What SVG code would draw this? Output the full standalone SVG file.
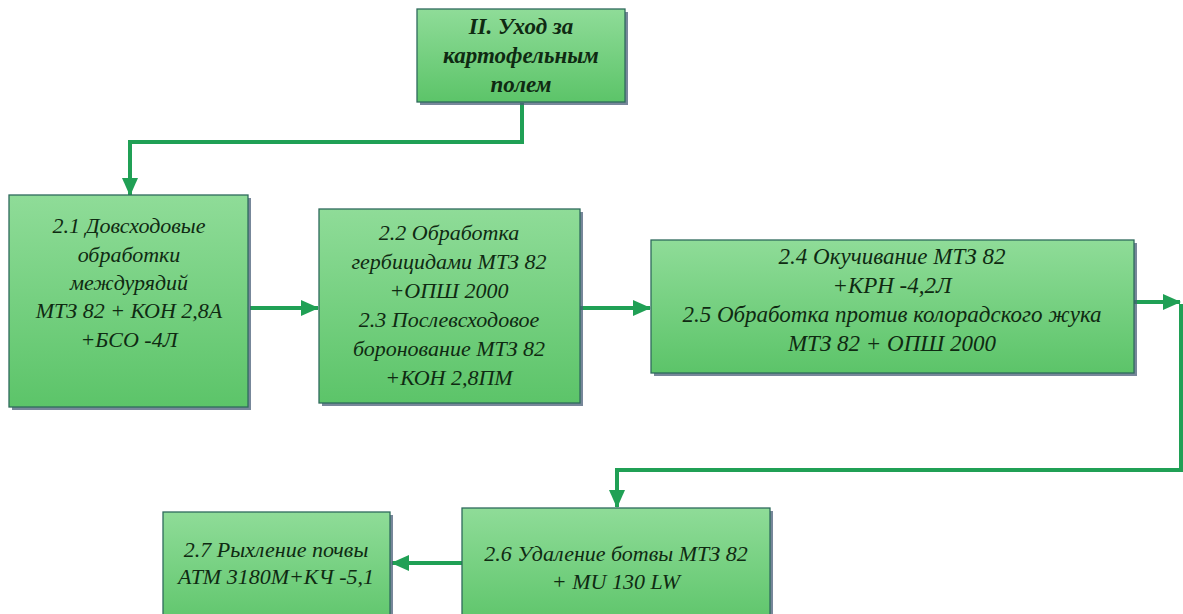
<svg xmlns="http://www.w3.org/2000/svg" width="1183" height="614" viewBox="0 0 1183 614">
<style>
.box{fill:url(#g);stroke:#2f6a5c;stroke-width:1.3}
.sh{fill:#4a5f78;opacity:0.75}
.c{fill:none;stroke:#20a055;stroke-width:4}
</style>
<defs>
<linearGradient id="g" x1="0" y1="0" x2="0" y2="1">
<stop offset="0" stop-color="#8fdc98"/>
<stop offset="1" stop-color="#5cc469"/>
</linearGradient>
<marker id="a" markerUnits="userSpaceOnUse" markerWidth="18" markerHeight="18" viewBox="0 0 18 18" refX="17" refY="9" orient="auto">
<path d="M0,1 L18,9 L0,17 z" fill="#20a055"/>
</marker>
</defs>
<g id="connectors">
<path class="c" d="M522 103 V142 H130 V195" marker-end="url(#a)"/>
<path class="c" d="M250 308 H318" marker-end="url(#a)"/>
<path class="c" d="M580 308 H650" marker-end="url(#a)"/>
<path class="c" d="M1134 302 H1180" marker-end="url(#a)"/>
<path class="c" d="M1181 304 V470 H617 V507" stroke-width="3" marker-end="url(#a)"/>
<path class="c" d="M462 563 H392" marker-end="url(#a)"/>
</g>
<g font-family="Liberation Serif, DejaVu Serif, serif" font-style="italic" font-size="22" fill="#0f2a12" text-anchor="middle">
<g id="n1">
<rect class="sh" x="420" y="12" width="208" height="93"/>
<rect class="box" x="417" y="9" width="208" height="93"/>
<text font-weight="bold" font-size="23" x="521" y="34">II. Уход за</text>
<text font-weight="bold" font-size="23" x="521" y="63">картофельным</text>
<text font-weight="bold" font-size="23" x="521" y="92">полем</text>
</g>
<g id="n21">
<rect class="sh" x="12" y="198" width="239" height="212"/>
<rect class="box" x="9" y="195" width="239" height="212"/>
<text x="129" y="233">2.1 Довсходовые</text>
<text x="129" y="262">обработки</text>
<text x="129" y="290">междурядий</text>
<text x="129" y="318">МТЗ 82 + КОН 2,8А</text>
<text x="129" y="347">+БСО -4Л</text>
</g>
<g id="n22">
<rect class="sh" x="322" y="212" width="261" height="194"/>
<rect class="box" x="319" y="209" width="261" height="194"/>
<text x="449" y="240">2.2 Обработка</text>
<text x="449" y="269">гербицидами МТЗ 82</text>
<text x="449" y="298">+ОПШ 2000</text>
<text x="449" y="327">2.3 Послевсходовое</text>
<text x="449" y="356">боронование МТЗ 82</text>
<text x="449" y="385">+КОН 2,8ПМ</text>
</g>
<g id="n24" font-size="23">
<rect class="sh" x="654" y="243" width="483" height="133"/>
<rect class="box" x="651" y="240" width="483" height="133"/>
<text x="892" y="264">2.4 Окучивание  МТЗ 82</text>
<text x="892" y="293">+КРН -4,2Л</text>
<text x="892" y="322">2.5 Обработка против колорадского жука</text>
<text x="892" y="351">МТЗ 82 + ОПШ 2000</text>
</g>
<g id="n26">
<rect class="sh" x="465" y="511" width="308" height="120"/>
<rect class="box" x="462" y="508" width="308" height="120"/>
<text x="616" y="561">2.6 Удаление ботвы МТЗ 82</text>
<text x="616" y="589">+ MU 130 LW</text>
</g>
<g id="n27">
<rect class="sh" x="166" y="515" width="227" height="120"/>
<rect class="box" x="163" y="512" width="227" height="120"/>
<text x="276" y="557">2.7 Рыхление почвы</text>
<text x="276" y="584">АТМ 3180М+КЧ -5,1</text>
</g>
</g>
</svg>
